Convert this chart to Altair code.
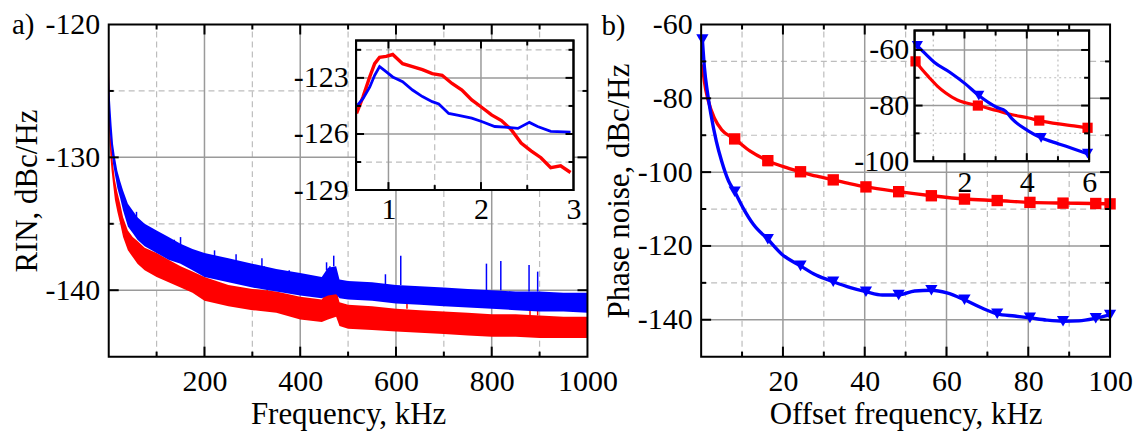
import altair as alt
import pandas as pd

FONT = "Liberation Serif"
RED, BLUE = "#ff0000", "#0000ff"
GMAJ, GMIN = "#9a9a9a", "#bdbdbd"

# ---------------- panel a : RIN (envelope of the noisy traces) ----------------
rin_f = [0.5, 2, 4, 6, 9, 13, 18, 24, 30, 40, 50, 60, 75, 100, 125, 150, 175, 200,
         250, 300, 350, 400, 445, 458, 475, 482, 500, 550, 600, 650, 700, 750, 800,
         850, 900, 950, 1000]
rin_blue_hi = [-123.8, -125.3, -126.5, -127.6, -129.0, -130.0, -131.0, -131.8, -132.5,
               -133.5, -134.0, -134.5, -135.0, -135.5, -136.0, -136.5, -136.9, -137.2,
               -137.6, -138.0, -138.4, -138.7, -139.0, -138.3, -138.2, -139.2, -139.3,
               -139.4, -139.6, -139.7, -139.8, -139.9, -140.0, -140.1, -140.1, -140.2, -140.2]
rin_blue_lo = [-127.0, -128.0, -128.8, -129.5, -130.5, -131.3, -132.3, -133.1, -134.0,
               -135.2, -135.7, -136.2, -136.7, -137.2, -137.7, -138.0, -138.5, -139.0,
               -139.4, -139.8, -140.1, -140.4, -140.6, -140.4, -140.3, -140.6, -140.7,
               -140.8, -141.0, -141.1, -141.2, -141.3, -141.4, -141.5, -141.6, -141.6, -141.7]
rin_red_hi = [-122.3, -126.5, -128.3, -129.3, -130.5, -131.7, -132.6, -133.5, -134.5,
              -135.5, -136.0, -136.3, -136.8, -137.2, -137.7, -138.2, -138.6, -139.0,
              -139.6, -139.9, -140.1, -140.5, -140.7, -140.0, -139.9, -140.9, -141.1,
              -141.2, -141.4, -141.5, -141.6, -141.7, -141.8, -141.8, -141.9, -142.0, -142.0]
rin_red_lo = [-127.5, -129.0, -130.2, -131.0, -132.0, -133.2, -134.1, -135.0, -136.0,
              -137.0, -137.5, -138.0, -138.5, -139.0, -139.4, -139.8, -140.2, -140.8,
              -141.2, -141.5, -141.7, -142.2, -142.4, -142.2, -142.0, -142.7, -142.9,
              -143.0, -143.1, -143.2, -143.3, -143.4, -143.5, -143.5, -143.6, -143.6, -143.6]
blue_spike_f = [58, 79, 137, 150, 169, 221, 266, 320, 325, 377, 455, 462, 470, 578, 610,
                789, 819, 878, 896]
blue_spike_top = [-134.1, -135.5, -136.2, -136.0, -137.0, -137.0, -137.3, -137.6, -138.2,
                  -138.5, -137.9, -138.2, -137.4, -138.8, -137.4, -138.0, -137.8, -138.1, -138.6]
blue_spike_base = [-134.6, -135.8, -136.6, -136.6, -137.3, -137.7, -137.8, -138.2, -138.4,
                   -138.8, -138.5, -138.4, -138.2, -139.6, -139.6, -140.0, -140.0, -140.1, -140.1]
red_spike_f = [331, 464, 470, 623, 880, 896]
red_spike_top = [-139.6, -139.7, -139.4, -140.5, -140.9, -140.7]
red_spike_base = [-140.2, -140.2, -140.2, -141.4, -141.9, -141.9]

# inset a
ia_blue_f = [0.655, 0.726, 0.797, 0.851, 0.904, 0.957, 1.046, 1.153, 1.26, 1.367, 1.473,
             1.544, 1.651, 1.758, 1.9, 2.007, 2.149, 2.256, 2.399, 2.523, 2.612, 2.754, 2.968]
ia_blue = [-124.53, -124.1, -123.5, -122.86, -122.4, -122.6, -122.95, -123.2, -123.65,
           -124.0, -124.27, -124.4, -124.9, -125.0, -125.15, -125.33, -125.6, -125.63,
           -125.7, -125.38, -125.6, -125.86, -125.9]
ia_red_f = [0.655, 0.726, 0.797, 0.851, 0.904, 0.975, 1.046, 1.153, 1.26, 1.367, 1.473,
            1.58, 1.687, 1.794, 1.9, 2.007, 2.114, 2.221, 2.327, 2.434, 2.541, 2.648,
            2.754, 2.861, 2.968]
ia_red = [-124.9, -124.0, -122.95, -122.24, -121.9, -121.85, -121.75, -122.24, -122.4,
          -122.56, -122.77, -122.86, -123.3, -123.65, -124.18, -124.57, -124.98, -125.28,
          -125.77, -126.48, -126.9, -127.27, -127.8, -127.7, -128.06]

# ---------------- panel b : phase noise ----------------
pn_red_f = [0.3, 0.8, 1.7, 3.3, 5.0, 8.2, 12.0, 16.3, 20.3, 24.3, 28.3, 32.3, 36.3, 40.3,
            48.3, 56.3, 64.4, 72.4, 80.4, 88.5, 96.5, 100]
pn_red = [-70.8, -75.5, -80.5, -85.5, -88.5, -91.0, -94.3, -96.9, -98.6, -99.9, -101.1,
          -102.1, -103.1, -104.0, -105.3, -106.4, -107.3, -107.7, -108.2, -108.4, -108.5, -108.6]
pn_red_mk_f = [8.2, 16.3, 24.3, 32.3, 40.3, 48.3, 56.3, 64.4, 72.4, 80.4, 88.5, 96.5, 100]
pn_red_mk = [-91.0, -96.9, -99.9, -102.1, -104.0, -105.3, -106.4, -107.3, -107.7, -108.2,
             -108.4, -108.5, -108.6]
pn_blue_f = [0.3, 0.8, 1.5, 2.4, 3.7, 5.0, 6.7, 8.2, 10.2, 12.8, 16.3, 19.8, 24.3, 28.1,
             32.3, 36.5, 40.3, 44.3, 48.3, 52.2, 56.3, 60.1, 64.4, 68.4, 72.4, 76.7, 80.4,
             84.5, 88.5, 92.4, 96.5, 100]
pn_blue = [-64.1, -71.7, -78.1, -84.4, -91.6, -97.0, -102.4, -105.3, -109.6, -114.2,
           -118.2, -122.3, -125.4, -127.9, -129.7, -131.3, -132.4, -133.3, -133.3, -132.2,
           -132.0, -132.7, -134.6, -136.7, -138.4, -139.0, -139.5, -140.1, -140.4, -140.3,
           -139.6, -138.7]
pn_blue_mk_f = [0.3, 8.2, 16.3, 24.3, 32.3, 40.3, 48.3, 56.3, 64.4, 72.4, 80.4, 88.5, 96.5, 100]
pn_blue_mk = [-64.1, -105.3, -118.2, -125.4, -129.7, -132.4, -133.3, -132.0, -134.6,
              -138.4, -139.5, -140.4, -139.6, -138.7]

# inset b
ib_red_f = [0.43, 0.6, 0.86, 1.13, 1.4, 1.77, 2.03, 2.43, 3.03, 3.53, 4.03, 4.40, 5.03, 5.51, 5.95]
ib_red = [-64.1, -66.5, -69.8, -73.0, -75.5, -78.0, -79.0, -80.0, -81.8, -83.3, -84.4,
          -85.4, -86.6, -87.3, -88.0]
ib_red_mk_f = [0.43, 2.43, 4.40, 5.95]
ib_red_mk = [-64.1, -80.0, -85.4, -88.0]
ib_blue_f = [0.49, 0.75, 1.03, 1.53, 2.03, 2.46, 3.03, 3.32, 3.53, 4.03, 4.46, 5.03, 5.51, 5.95]
ib_blue = [-58.5, -61.4, -64.4, -68.0, -72.2, -76.4, -80.6, -82.0, -84.8, -89.0, -91.6,
           -93.8, -95.6, -97.3]
ib_blue_mk_f = [0.49, 2.46, 4.46, 5.95]
ib_blue_mk = [-58.5, -76.4, -91.6, -97.3]

LABEXPR = "datum.value < 0 ? '-' + abs(datum.value) : '' + datum.value"


def frame(xdom, xrng, ydom, yrng, xaxis, yaxis):
    return dict(xdom=xdom, ydom=ydom,
                sx=alt.Scale(domain=xdom, range=xrng, zero=False, nice=False),
                sy=alt.Scale(domain=ydom, range=yrng, zero=False, nice=False),
                ax=xaxis, ay=yaxis)


def X(f, p):
    return alt.X(f, type="quantitative", scale=p["sx"], axis=p["ax"])


def Y(f, p):
    return alt.Y(f, type="quantitative", scale=p["sy"], axis=p["ay"])


def XD(v, p):
    return alt.XDatum(v, type="quantitative", scale=p["sx"], axis=p["ax"])


def YD(v, p):
    return alt.YDatum(v, type="quantitative", scale=p["sy"], axis=p["ay"])


ONE = pd.DataFrame({"k": [0]})


def vgrid(vals, p, color, width, dash=None):
    kw = dict(color=color, strokeWidth=width)
    if dash:
        kw["strokeDash"] = dash
    return alt.Chart(pd.DataFrame({"v": vals})).mark_rule(**kw).encode(
        x=X("v", p), y=YD(p["ydom"][0], p), y2=alt.Y2Datum(p["ydom"][1]))


def hgrid(vals, p, color, width, dash=None):
    kw = dict(color=color, strokeWidth=width)
    if dash:
        kw["strokeDash"] = dash
    return alt.Chart(pd.DataFrame({"v": vals})).mark_rule(**kw).encode(
        y=Y("v", p), x=XD(p["xdom"][0], p), x2=alt.X2Datum(p["xdom"][1]))


def ticks(p, xmaj, xmin, ymaj, ymin, lmaj, lmin):
    out = []
    for vals, ln in ((xmaj, lmaj), (xmin, lmin)):
        df = pd.DataFrame({"v": vals})
        for edge, off in ((p["ydom"][0], -ln), (p["ydom"][1], ln)):
            out.append(alt.Chart(df).mark_rule(color="black", strokeWidth=2, y2Offset=off).encode(
                x=X("v", p), y=YD(edge, p), y2=alt.Y2Datum(edge)))
    for vals, ln in ((ymaj, lmaj), (ymin, lmin)):
        df = pd.DataFrame({"v": vals})
        for edge, off in ((p["xdom"][0], ln), (p["xdom"][1], -ln)):
            out.append(alt.Chart(df).mark_rule(color="black", strokeWidth=2, x2Offset=off).encode(
                y=Y("v", p), x=XD(edge, p), x2=alt.X2Datum(edge)))
    return out


def box(p, fill, opacity, stroke_w):
    return alt.Chart(ONE).mark_rect(fill=fill, fillOpacity=opacity, stroke="black",
                                    strokeWidth=stroke_w).encode(
        x=XD(p["xdom"][0], p), x2=alt.X2Datum(p["xdom"][1]),
        y=YD(p["ydom"][0], p), y2=alt.Y2Datum(p["ydom"][1]))


def line(fx, fy, p, color, width, interp="linear"):
    df = pd.DataFrame({"f": fx, "v": fy})
    return alt.Chart(df).mark_line(color=color, strokeWidth=width, interpolate=interp).encode(
        x=X("f", p), y=Y("v", p))


def markers(fx, fy, p, color, shape, size):
    df = pd.DataFrame({"f": fx, "v": fy})
    return alt.Chart(df).mark_point(color=color, fill=color, filled=True, opacity=1,
                                    shape=shape, size=size).encode(x=X("f", p), y=Y("v", p))


def ax(vals, orient, title=None, offset=0, pad=8, tpad=4, z=0):
    kw = dict(values=vals, orient=orient, offset=offset, labelPadding=pad,
              labelExpr=LABEXPR, title=title, zindex=z)
    if title:
        kw["titlePadding"] = tpad
    return alt.Axis(**kw)


# ---------- frames (pixel ranges inside one shared view) ----------
H = 333
pA = frame([0, 1000], [0, 480], [-145, -120], [H, 0],
           ax([200, 400, 600, 800, 1000], "bottom", "Frequency, kHz", pad=10, tpad=3),
           ax([-140, -130, -120], "left", "RIN, dBc/Hz", pad=9, tpad=1))
pIA = frame([0.65, 3], [248, 466], [-129, -121], [166, 16],
            ax([1, 2, 3], "bottom", offset=-(H - 166), pad=4, z=1),
            ax([-129, -126, -123], "left", offset=-248, pad=8, z=1))
pB = frame([0, 100], [594, 1004], [-150, -60], [H, 0],
           ax([20, 40, 60, 80, 100], "bottom", "Offset frequency, kHz", pad=10, tpad=3),
           ax([-140, -120, -100, -80, -60], "left", "Phase noise, dBc/Hz", offset=-594, pad=9, tpad=2))
pIB = frame([0.4, 6], [808, 983], [-100, -53], [137, 6],
            ax([2, 4, 6], "bottom", offset=-(H - 137), pad=6, z=1),
            ax([-100, -80, -60], "left", offset=-808, pad=6, z=1))

DASH = [6, 4]
DOT = [2, 3]

# ---------- panel a ----------
rin = pd.DataFrame({"f": rin_f, "bh": rin_blue_hi, "bl": rin_blue_lo,
                    "rh": rin_red_hi, "rl": rin_red_lo})
bsp = pd.DataFrame({"f": blue_spike_f, "t": blue_spike_top, "b": blue_spike_base})
rsp = pd.DataFrame({"f": red_spike_f, "t": red_spike_top, "b": red_spike_base})

mainA = alt.layer(
    vgrid([100, 300, 500, 700, 900], pA, GMIN, 1.2, DASH),
    hgrid([-135, -125], pA, GMIN, 1.2, DASH),
    vgrid([200, 400, 600, 800], pA, GMAJ, 1.5),
    hgrid([-140, -130], pA, GMAJ, 1.5),
    alt.Chart(rin).mark_area(color=RED, opacity=1).encode(x=X("f", pA), y=Y("rh", pA), y2="rl"),
    alt.Chart(rsp).mark_rule(color=RED, strokeWidth=1.5).encode(x=X("f", pA), y=Y("t", pA), y2="b"),
    alt.Chart(rin).mark_area(color=BLUE, opacity=1).encode(x=X("f", pA), y=Y("bh", pA), y2="bl"),
    alt.Chart(bsp).mark_rule(color=BLUE, strokeWidth=1.5).encode(x=X("f", pA), y=Y("t", pA), y2="b"),
    box(pA, "white", 0, 2),
    *ticks(pA, [200, 400, 600, 800], [100, 300, 500, 700, 900], [-140, -130], [-135, -125], 10, 5),
    alt.Chart(ONE).mark_text(text="a)", font=FONT, fontSize=29, align="left", baseline="middle",
                             color="black").encode(x=alt.value(-97), y=alt.value(1)),
)

insetA = alt.layer(
    box(pIA, "white", 1, 2),
    vgrid([1.5, 2.5], pIA, GMIN, 1.2, DASH),
    hgrid([-127.5, -124.5, -121.5], pIA, GMIN, 1.2, DASH),
    vgrid([1, 2], pIA, GMAJ, 1.5),
    hgrid([-126, -123], pIA, GMAJ, 1.5),
    line(ia_red_f, ia_red, pIA, RED, 3.4),
    line(ia_blue_f, ia_blue, pIA, BLUE, 2.8),
    box(pIA, "white", 0, 2),
    *ticks(pIA, [1, 2], [1.5, 2.5], [-126, -123], [-127.5, -124.5, -121.5], 8, 5),
)

mainB = alt.layer(
    vgrid([10, 30, 50, 70, 90], pB, GMIN, 1.2, DASH),
    hgrid([-130, -110, -90, -70], pB, GMIN, 1.2, DASH),
    vgrid([20, 40, 60, 80], pB, GMAJ, 1.5),
    hgrid([-140, -120, -100, -80], pB, GMAJ, 1.5),
    line(pn_red_f, pn_red, pB, RED, 3.4, "monotone"),
    line(pn_blue_f, pn_blue, pB, BLUE, 3.4, "monotone"),
    markers(pn_red_mk_f, pn_red_mk, pB, RED, "square", 130),
    markers(pn_blue_mk_f, pn_blue_mk, pB, BLUE, "triangle-down", 150),
    box(pB, "white", 0, 2),
    *ticks(pB, [20, 40, 60, 80], [10, 30, 50, 70, 90], [-140, -120, -100, -80],
           [-130, -110, -90, -70], 10, 5),
    alt.Chart(ONE).mark_text(text="b)", font=FONT, fontSize=29, align="left", baseline="middle",
                             color="black").encode(x=alt.value(494), y=alt.value(2)),
)

insetB = alt.layer(
    box(pIB, "white", 1, 2),
    vgrid([1, 3, 5], pIB, GMIN, 1.2, DOT),
    hgrid([-90, -70], pIB, GMIN, 1.2, DOT),
    vgrid([2, 4], pIB, GMAJ, 1.5),
    hgrid([-80, -60], pIB, GMAJ, 1.5),
    line(ib_red_f, ib_red, pIB, RED, 3.2, "monotone"),
    line(ib_blue_f, ib_blue, pIB, BLUE, 3.2, "monotone"),
    markers(ib_red_mk_f, ib_red_mk, pIB, RED, "square", 105),
    markers(ib_blue_mk_f, ib_blue_mk, pIB, BLUE, "triangle-down", 125),
    box(pIB, "white", 0, 2),
    *ticks(pIB, [2, 4], [1, 3, 5], [-80, -60], [-90, -70], 8, 5),
)

chart = alt.layer(mainA, insetA, mainB, insetB).resolve_scale(
    x="independent", y="independent"
).properties(
    width=1004, height=H,
    autosize=alt.AutoSizeParams(type="none"),
    padding={"left": 101, "top": 16, "right": 25, "bottom": 75},
).configure_view(stroke=None).configure_axis(
    labelFont=FONT, titleFont=FONT, labelFontSize=30, titleFontSize=31,
    labelColor="black", titleColor="black", titleFontWeight="normal",
    ticks=False, domain=False, grid=False, labelFlush=False, labelOverlap=False,
)

chart.save("out.html", embed_options={"renderer": "svg", "actions": False})
